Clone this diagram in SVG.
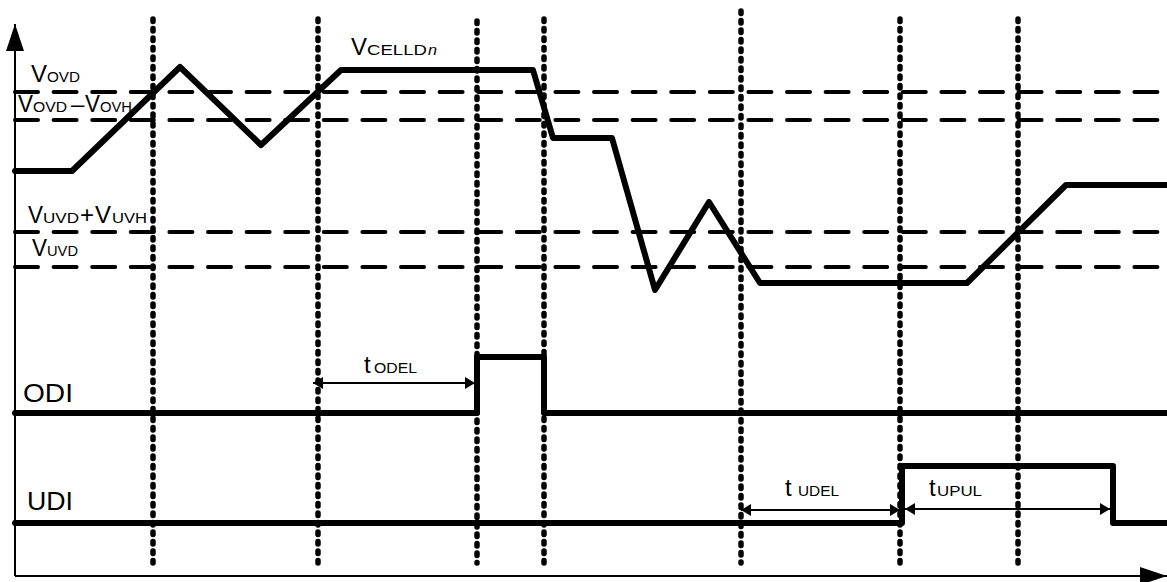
<svg xmlns="http://www.w3.org/2000/svg" width="1167" height="582" viewBox="0 0 1167 582">
<style>
.txt{font-family:"Liberation Sans",Arial,sans-serif;fill:#000}
.big{font-size:24px}
.sub{font-size:15px}
.sig{fill:none;stroke:#000;stroke-width:6;stroke-linejoin:round;stroke-linecap:round}
.dash{fill:none;stroke:#000;stroke-width:4;stroke-linecap:round;stroke-dasharray:23 15.6}
.dot{fill:none;stroke:#000;stroke-width:5.5;stroke-linecap:round;stroke-dasharray:2.5 7}
.axis{fill:none;stroke:#000;stroke-width:2}
.dim{fill:none;stroke:#000;stroke-width:2}
</style>
<defs>
<marker id="ah" markerUnits="userSpaceOnUse" viewBox="0 0 10 12" refX="10" refY="6" markerWidth="10" markerHeight="12" orient="auto-start-reverse">
<path d="M0 0 L10 6 L0 12 Z" fill="#000"/>
</marker>
<marker id="axh" markerUnits="userSpaceOnUse" viewBox="0 0 27 18" refX="27" refY="9" markerWidth="27" markerHeight="18" orient="auto">
<path d="M0 0 L27 9 L0 18 Z" fill="#000"/>
</marker>
</defs>
<rect width="1167" height="582" fill="#fff"/>

<g id="thresholds">
<line class="dash" x1="15" y1="92" x2="1167" y2="92"/>
<line class="dash" x1="15" y1="120" x2="1167" y2="120"/>
<line class="dash" x1="15" y1="232" x2="1167" y2="232"/>
<line class="dash" x1="15" y1="267" x2="1167" y2="267"/>
</g>

<g id="gridlines">
<line class="dot" x1="153" y1="19" x2="153" y2="563"/>
<line class="dot" x1="318" y1="19" x2="318" y2="563"/>
<line class="dot" x1="477" y1="21" x2="477" y2="563"/>
<line class="dot" x1="544" y1="19" x2="544" y2="563"/>
<line class="dot" x1="741" y1="11" x2="741" y2="563"/>
<line class="dot" x1="900" y1="19" x2="900" y2="563"/>
<line class="dot" x1="1018" y1="19" x2="1018" y2="563"/>
</g>

<g id="axes">
<line class="axis" x1="15" y1="576" x2="15" y2="24" marker-end="url(#axh)"/>
<line class="axis" x1="15" y1="576" x2="1167" y2="576" marker-end="url(#axh)"/>
</g>

<g id="vcell">
<path class="sig" d="M15 171 L72 171 L180 67 L261 145 L341 70 L533 70 L553 138 L612 138 L655 290 L709 202 L760 283 L967 283 L1066 185 L1167 185"/>
</g>

<g id="odi">
<path class="sig" d="M15 413 H477 V357 H544 V413 H1167"/>
</g>

<g id="udi">
<path class="sig" d="M15 523 H902 V466 H1113 V523 H1167"/>
</g>

<g id="connectors">
<line class="dim" x1="313" y1="383" x2="475" y2="383" marker-start="url(#ah)" marker-end="url(#ah)"/>
<line class="dim" x1="741" y1="510" x2="900" y2="510" marker-start="url(#ah)" marker-end="url(#ah)"/>
<line class="dim" x1="905" y1="509" x2="1110" y2="509" marker-start="url(#ah)" marker-end="url(#ah)"/>
</g>

<g id="labels">
<text class="txt" y="82"><tspan class="big" x="31" textLength="16" lengthAdjust="spacingAndGlyphs">V</tspan><tspan class="sub" x="47" textLength="33" lengthAdjust="spacingAndGlyphs">OVD</tspan></text>
<text class="txt" y="112"><tspan class="big" x="18" textLength="15" lengthAdjust="spacingAndGlyphs">V</tspan><tspan class="sub" x="33" textLength="34" lengthAdjust="spacingAndGlyphs">OVD</tspan><tspan class="big" x="71">–</tspan><tspan class="big" x="85" textLength="15" lengthAdjust="spacingAndGlyphs">V</tspan><tspan class="sub" x="100" textLength="32" lengthAdjust="spacingAndGlyphs">OVH</tspan></text>
<text class="txt" y="223"><tspan class="big" x="28" textLength="15" lengthAdjust="spacingAndGlyphs">V</tspan><tspan class="sub" x="43" textLength="36" lengthAdjust="spacingAndGlyphs">UVD</tspan><tspan class="big" x="80">+</tspan><tspan class="big" x="95" textLength="16" lengthAdjust="spacingAndGlyphs">V</tspan><tspan class="sub" x="112" textLength="35" lengthAdjust="spacingAndGlyphs">UVH</tspan></text>
<text class="txt" y="256"><tspan class="big" x="32" textLength="15" lengthAdjust="spacingAndGlyphs">V</tspan><tspan class="sub" x="47" textLength="31" lengthAdjust="spacingAndGlyphs">UVD</tspan></text>
<text class="txt" y="55"><tspan class="big" x="351" textLength="16" lengthAdjust="spacingAndGlyphs">V</tspan><tspan class="sub" x="367" textLength="60" lengthAdjust="spacingAndGlyphs">CELLD</tspan><tspan class="sub" x="428" font-style="italic" textLength="9" lengthAdjust="spacingAndGlyphs">n</tspan></text>
<text class="txt" y="373"><tspan class="big" x="364">t</tspan><tspan class="sub" x="374" textLength="43" lengthAdjust="spacingAndGlyphs">ODEL</tspan></text>
<text class="txt" y="496"><tspan class="big" x="785">t</tspan><tspan class="sub" x="798" textLength="41" lengthAdjust="spacingAndGlyphs">UDEL</tspan></text>
<text class="txt" y="496"><tspan class="big" x="929">t</tspan><tspan class="sub" x="937" textLength="45" lengthAdjust="spacingAndGlyphs">UPUL</tspan></text>
<text class="txt" x="23" y="402" font-size="25" textLength="50" lengthAdjust="spacingAndGlyphs">ODI</text>
<text class="txt" x="27" y="510" font-size="25" textLength="46" lengthAdjust="spacingAndGlyphs">UDI</text>
</g>
</svg>
